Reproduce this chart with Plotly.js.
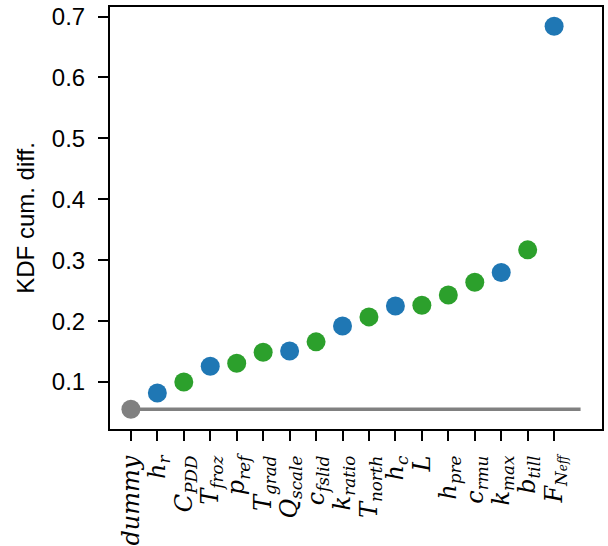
<!DOCTYPE html>
<html>
<head>
<meta charset="utf-8">
<script src="https://cdn.plot.ly/plotly-3.0.1.min.js"></script>
<style>html,body{margin:0;padding:0;background:#fff;}#plot{width:608px;height:546px;}</style>
</head>
<body>
<div id="plot"></div>
<script>
// Parameters (tick labels) in plotted order
const parameters = ["dummy","h_r","C_PDD","T_froz","p_ref","T_grad","Q_scale","c_fslid","k_ratio","T_north","h_c","L","h_pre","c_rmu","k_max","b_till","F_Neff"];
const tickLabels = ["dummy","h<sub>r</sub>","C<sub>PDD</sub>","T<sub>froz</sub>","p<sub>ref</sub>","T<sub>grad</sub>","Q<sub>scale</sub>","c<sub>fslid</sub>","k<sub>ratio</sub>","T<sub>north</sub>","h<sub>c</sub>","L","h<sub>pre</sub>","c<sub>rmu</sub>","k<sub>max</sub>","b<sub>till</sub>","F<sub>N<span style=\"font-size:12px\">eff</span></sub>"];
// KDF cumulative difference values
const kdfValues = [0.0555, 0.082, 0.100, 0.126, 0.131, 0.149, 0.151, 0.166, 0.192, 0.207, 0.225, 0.226, 0.243, 0.264, 0.280, 0.317, 0.684];
// Group of each parameter
const groups = ["dummy","blue","green","blue","green","green","blue","green","blue","green","blue","green","green","green","blue","green","blue"];

const colorMap = {dummy: "#808080", blue: "#1f77b4", green: "#2ca02c"};
const xIdx = parameters.map((_, i) => i);

const baseline = {
  x: [0, parameters.length],
  y: [kdfValues[0], kdfValues[0]],
  mode: "lines",
  line: {color: "#808080", width: 3.5},
  hoverinfo: "skip",
  showlegend: false
};
const points = {
  x: xIdx,
  y: kdfValues,
  mode: "markers",
  marker: {size: 19, color: groups.map(g => colorMap[g])},
  text: parameters,
  showlegend: false
};

const layout = {
  width: 608, height: 546,
  margin: {l: 110, r: 6, t: 7, b: 117},
  paper_bgcolor: "#fff", plot_bgcolor: "#fff",
  font: {family: "Liberation Sans, Arial, sans-serif", color: "#000"},
  xaxis: {
    range: [-0.79, 17.81],
    tickmode: "array", tickvals: xIdx, ticktext: tickLabels,
    tickangle: -90,
    tickfont: {family: "DejaVu Serif, serif", size: 24, style: "italic", color: "#000"},
    ticks: "outside", ticklen: 10, tickwidth: 2, tickcolor: "#000",
    ticklabelstandoff: 5,
    showline: true, linewidth: 2, linecolor: "#000", mirror: true,
    showgrid: false, zeroline: false
  },
  yaxis: {
    range: [0.023, 0.7156],
    tickvals: [0.1,0.2,0.3,0.4,0.5,0.6,0.7],
    ticktext: ["0.1","0.2","0.3","0.4","0.5","0.6","0.7"],
    tickfont: {size: 24, color: "#000"},
    ticks: "outside", ticklen: 10, tickwidth: 2, tickcolor: "#000",
    ticklabelstandoff: 8,
    showline: true, linewidth: 2, linecolor: "#000", mirror: true,
    showgrid: false, zeroline: false,
    title: {text: "KDF cum. diff.", font: {size: 24, color: "#000"}, standoff: 10}
  }
};

Plotly.newPlot("plot", [baseline, points], layout, {displayModeBar: false, staticPlot: true});
</script>
</body>
</html>
